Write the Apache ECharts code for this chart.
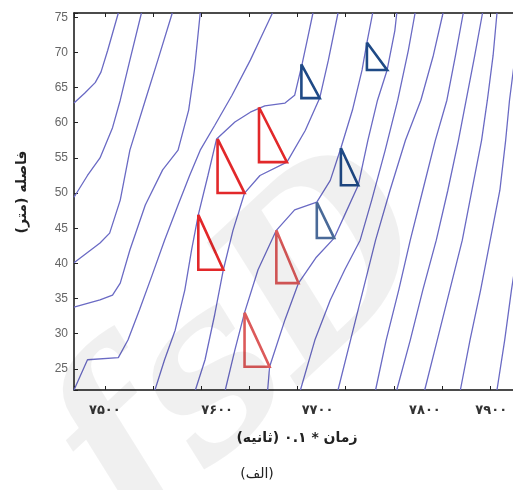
<!DOCTYPE html>
<html>
<head>
<meta charset="utf-8">
<script src="https://cdn.jsdelivr.net/npm/echarts@6/dist/echarts.min.js"></script>
<style>
  html, body { margin: 0; padding: 0; background: #fff; }
  #chart { width: 513px; height: 490px; }
</style>
</head>
<body>
<div id="chart"></div>
<script>
// vehicle trajectories: [time*0.1 s, distance m]
const trajA = [[7468, 62.8], [7479, 64.2], [7490, 65.7], [7496, 67.2], [7503, 70.3], [7514, 75.6]];
const trajB = [[7468, 49.4], [7482, 52.5], [7495, 55.0], [7508, 59.3], [7516, 63.2], [7526, 68.9], [7538, 75.6]];
const trajC = [[7468, 40.1], [7495, 42.9], [7505, 44.3], [7516, 49.0], [7526, 56.1], [7542, 63.2], [7555, 68.9], [7570, 75.6]];
const trajD = [[7468, 33.8], [7495, 34.8], [7508, 35.5], [7516, 37.2], [7526, 41.9], [7542, 48.3], [7560, 53.3], [7576, 56.1], [7587, 61.8], [7593, 67.5], [7599, 75.6]];
const trajE = [[7468, 22.0], [7482, 26.3], [7514, 26.6], [7524, 29.1], [7536, 33.4], [7549, 38.3], [7562, 43.3], [7576, 48.3], [7588, 52.5], [7599, 56.1], [7614, 59.6], [7632, 63.9], [7651, 68.9], [7663, 72.4], [7674, 75.6]];
const trajE2 = [[7552, 22.0], [7562, 26.3], [7573, 30.5], [7583, 36.2], [7590, 41.9], [7597, 46.9], [7607, 52.5], [7616, 57.7], [7635, 60.1], [7651, 61.5], [7666, 62.4], [7687, 62.8], [7697, 63.9], [7705, 68.5], [7710, 71.7], [7716, 75.6]];
const trajG = [[7594, 22.0], [7604, 26.3], [7614, 32.7], [7623, 39.1], [7633, 44.7], [7645, 50.0], [7661, 52.5], [7689, 54.4], [7708, 58.9], [7723, 63.5], [7732, 68.9], [7742, 75.6]];
const trajH = [[7625, 22.0], [7635, 27.7], [7645, 33.0], [7659, 39.1], [7678, 44.7], [7697, 47.6], [7720, 48.7], [7734, 51.8], [7745, 56.4], [7757, 61.8], [7767, 67.5], [7772, 71.4], [7778, 75.6]];
const trajI = [[7669, 22.0], [7671, 25.3], [7687, 32.0], [7701, 37.2], [7719, 40.8], [7738, 43.6], [7749, 46.9], [7763, 51.1], [7773, 57.5], [7783, 63.2], [7793, 67.5], [7801, 73.1], [7803, 75.6]];
const trajJ = [[7703, 22.0], [7718, 29.1], [7734, 34.8], [7749, 39.1], [7765, 43.3], [7777, 49.0], [7791, 56.1], [7804, 63.2], [7815, 70.3], [7822, 75.6]];
const trajK = [[7742, 22.0], [7755, 29.1], [7768, 36.2], [7781, 43.3], [7796, 50.4], [7812, 57.5], [7828, 63.2], [7841, 69.6], [7851, 75.6]];
const trajL = [[7781, 22.0], [7792, 29.1], [7805, 36.2], [7817, 43.3], [7830, 50.4], [7843, 57.5], [7855, 63.2], [7864, 69.6], [7872, 75.6]];
const trajM = [[7803, 22.0], [7817, 29.1], [7830, 36.2], [7844, 43.3], [7856, 50.4], [7867, 57.5], [7875, 63.2], [7884, 69.6], [7892, 75.6]];
const trajN = [[7832, 22.0], [7845, 29.1], [7858, 36.2], [7871, 43.3], [7881, 50.4], [7891, 57.5], [7897, 63.2], [7903, 69.6], [7907, 75.6]];
const trajO = [[7869, 22.0], [7879, 29.1], [7890, 36.2], [7900, 43.3], [7910, 50.4], [7916, 57.5], [7920, 63.2], [7924, 67.5], [7930, 73.0]];
const trajP = [[7907, 22.0], [7915, 29.1], [7922, 36.2], [7930, 43.3]];
const trajectories = [trajA, trajB, trajC, trajD, trajE, trajE2, trajG, trajH, trajI, trajJ, trajK, trajL, trajM, trajN, trajO, trajP];

// right triangles: [left time, right time, top distance, bottom distance]
const redTriangles = [[7617, 7645, 57.7, 50.0], [7660, 7689, 62.2, 54.4], [7597, 7623, 46.9, 39.1]];
const pinkTriangles = [[7678, 7701, 44.7, 37.2], [7645, 7671, 33.0, 25.3]];
const blueTriangles = [[7704, 7723, 68.3, 63.5], [7772, 7793, 71.4, 67.5], [7745, 7763, 56.4, 51.1]];
const paleBlueTriangles = [[7720, 7738, 48.7, 43.6]];

const yTicks = [25, 30, 35, 40, 45, 50, 55, 60, 65, 70, 75];
const xTickLabels = { 7500: '۷۵۰۰', 7600: '۷۶۰۰', 7700: '۷۷۰۰', 7800: '۷۸۰۰', 7900: '۷۹۰۰' };
// the printed labels sit a little right of their ticks
const xLabelShift = { 7500: 0, 7600: 16, 7700: 20, 7800: 31, 7900: 1 };

const X_MIN = 7468, X_MAX = 7934, Y_MIN = 22, Y_MAX = 75.6;

const triPoints = (t) => [[t[0], t[2]], [t[0], t[3]], [t[1], t[3]], [t[0], t[2]]];

const series = [];
trajectories.forEach((tr) => {
    series.push({
        type: 'line', data: tr, symbol: 'none', silent: true,
        lineStyle: { color: '#6a6ac4', width: 1.3 }, z: 2
    });
});
const addTriangles = (list, color) => {
    list.forEach((t) => {
        series.push({
            type: 'line', data: triPoints(t), symbol: 'none', silent: true,
            lineStyle: { color: color, width: 2.6, join: 'miter' }, z: 3
        });
    });
};
addTriangles(redTriangles, '#e2282a');
addTriangles(pinkTriangles, '#dc5a5a');
addTriangles(blueTriangles, '#1f4a86');
addTriangles(paleBlueTriangles, '#4a6a98');

const chart = echarts.init(document.getElementById('chart'));
chart.setOption({
    animation: false,
    grid: { left: 74, top: 13, right: -10, bottom: 100, outerBoundsMode: 'none' },
    xAxis: [
        {
            type: 'value', min: X_MIN, max: X_MAX, splitNumber: 9,
            axisLine: { show: true, lineStyle: { color: '#111', width: 1.5 } },
            axisTick: { show: true, inside: true, length: 4, lineStyle: { color: '#222' } },
            splitLine: { show: false },
            axisLabel: {
                margin: 14,
                formatter: (v) => xTickLabels[v] ? '{s' + xLabelShift[v] + '|' + xTickLabels[v] + '}' : '',
                rich: Object.fromEntries(Object.values(xLabelShift).map((s) => [
                    's' + s,
                    { padding: [0, 0, 0, s * 2], fontFamily: 'DejaVu Sans', fontWeight: 'bold', fontSize: 13, color: '#333' }
                ]))
            }
        },
        {
            type: 'value', position: 'top', min: X_MIN, max: X_MAX, splitNumber: 9,
            axisLine: { show: true, lineStyle: { color: '#111', width: 1.5 } },
            axisTick: { show: true, inside: true, length: 4, lineStyle: { color: '#222' } },
            axisLabel: { show: false }, splitLine: { show: false }
        }
    ],
    yAxis: {
        type: 'value', min: Y_MIN, max: Y_MAX, splitNumber: 10,
        axisLine: { show: true, lineStyle: { color: '#111', width: 1.5 } },
        axisTick: { show: true, inside: true, length: 4, lineStyle: { color: '#222' } },
        splitLine: { show: false },
        axisLabel: {
            margin: 6, color: '#666', fontSize: 12, fontFamily: 'Liberation Sans',
            formatter: (v) => yTicks.includes(v) ? String(v) : ''
        }
    },
    series: series,
    graphic: [
        {
            type: 'text', x: 297, y: 438, z: 10,
            style: { text: 'زمان * ۰.۱ (ثانیه)', font: 'bold 14px "DejaVu Sans"', fill: '#222', align: 'center', verticalAlign: 'middle' }
        },
        {
            type: 'text', x: 22, y: 192, rotation: Math.PI / 2, z: 10,
            style: { text: 'فاصله (متر)', font: 'bold 14px "DejaVu Sans"', fill: '#222', align: 'center', verticalAlign: 'middle' }
        },
        {
            type: 'text', x: 257, y: 474, z: 10,
            style: { text: '(الف)', font: '14px "DejaVu Sans"', fill: '#222', align: 'center', verticalAlign: 'middle' }
        },
        {
            type: 'text', x: 250, y: 350, rotation: 0.75, z: 20, silent: true,
            style: { text: 'fsD', font: 'italic bold 230px "DejaVu Serif"', fill: 'rgba(0,0,0,0.06)', align: 'center', verticalAlign: 'middle' }
        }
    ]
});
</script>
</body>
</html>
